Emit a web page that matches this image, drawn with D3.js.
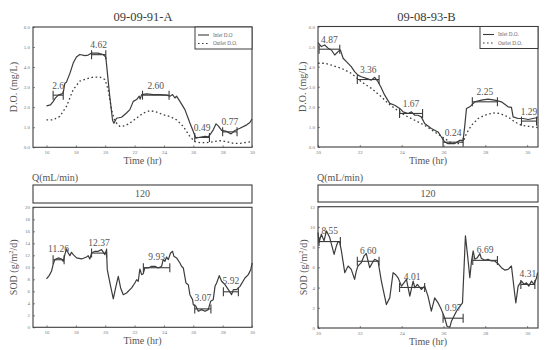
<!DOCTYPE html>
<html>
<head>
<meta charset="utf-8">
<script src="https://cdn.jsdelivr.net/npm/d3@7"></script>
<style>
  html, body { margin: 0; padding: 0; background: #fff; }
  svg { display: block; }
</style>
</head>
<body>
<svg id="chart" width="549" height="350"></svg>
<script>
// ---- Data: run 09-09-91-A (time in hr, D.O. in mg/L, SOD in g/m2/d) ----
const inletA = [[16.0,2.07],[16.27,2.12],[16.45,2.28],[16.6,2.45],[16.8,2.6],[17.0,2.65],[17.14,2.72],[17.25,3.2],[17.36,3.25],[17.6,3.7],[17.82,4.2],[18.04,4.5],[18.27,4.63],[18.61,4.57],[18.84,4.6],[19.07,4.7],[19.5,4.7],[19.86,4.63],[20.04,4.5],[20.3,2.6],[20.5,1.35],[20.59,1.2],[20.77,1.45],[21.11,1.5],[21.45,1.71],[21.68,1.88],[21.91,2.29],[22.14,2.38],[22.32,2.55],[22.38,2.4],[22.48,2.63],[22.82,2.66],[23.27,2.63],[23.73,2.63],[24.18,2.6],[24.41,2.55],[24.59,2.63],[24.75,2.46],[24.86,2.55],[25.09,2.29],[25.43,1.88],[25.77,1.21],[26.0,0.79],[26.18,0.45],[26.45,0.5],[26.8,0.55],[27.02,0.52],[27.18,0.67],[27.36,0.87],[27.55,1.17],[27.7,1.07],[27.93,0.84],[28.27,0.79],[28.57,0.67],[28.84,0.84],[29.18,0.95],[29.64,1.12],[29.86,1.24],[30.0,1.41]];
const outletA = [[16.0,1.37],[16.45,1.37],[16.91,1.54],[17.36,2.04],[17.82,2.88],[18.27,3.3],[18.73,3.42],[19.18,3.5],[19.64,3.5],[19.98,3.38],[20.2,2.88],[20.43,1.88],[20.66,1.29],[21.0,1.04],[21.34,1.07],[21.68,1.21],[22.14,1.46],[22.59,1.71],[23.05,1.83],[23.5,1.76],[23.95,1.62],[24.41,1.54],[24.86,1.37],[25.32,1.04],[25.77,0.54],[26.11,0.28],[26.45,0.23],[26.91,0.23],[27.36,0.28],[27.82,0.33],[28.27,0.28],[28.73,0.2],[29.18,0.2],[29.98,0.28]];
const doBarStartA = [16.45, 19.07, 22.54, 26.1, 28.0];
const doBarEndA   = [17.14, 20.04, 24.35, 27.1, 28.98];
const doBarValueA = [2.6, 4.62, 2.60, 0.49, 0.77];
const doBarTextA  = ["2.6", "4.62", "2.60", "0.49", "0.77"];

const sodA = [[16.0,8.06],[16.18,8.61],[16.34,9.33],[16.45,10.44],[16.57,11.28],[16.8,11.56],[17.02,11.39],[17.14,11.0],[17.25,12.11],[17.36,13.06],[17.48,12.39],[17.59,11.94],[17.7,12.5],[17.82,12.11],[18.05,11.56],[18.39,11.39],[18.73,11.72],[18.84,11.94],[18.95,11.39],[19.07,12.39],[19.3,12.67],[19.52,12.67],[19.75,12.94],[19.98,12.11],[20.09,12.94],[20.14,9.61],[20.32,7.39],[20.55,4.72],[20.73,6.83],[20.89,8.5],[21.05,6.56],[21.23,5.44],[21.45,5.72],[21.8,6.56],[22.02,7.39],[22.14,7.94],[22.25,7.67],[22.36,9.72],[22.48,8.78],[22.59,8.94],[22.7,9.89],[22.93,9.89],[23.16,10.17],[23.39,10.17],[23.61,9.89],[23.84,10.17],[23.95,11.28],[24.07,11.0],[24.18,11.72],[24.3,11.28],[24.45,12.39],[24.59,12.67],[24.68,11.83],[24.86,11.56],[25.09,10.72],[25.2,10.17],[25.32,9.89],[25.5,7.39],[25.66,7.11],[25.77,5.44],[25.95,4.61],[26.0,3.78],[26.18,3.5],[26.34,2.67],[26.57,2.94],[26.8,2.67],[27.02,2.94],[27.18,4.33],[27.36,4.61],[27.48,6.83],[27.59,7.39],[27.77,8.61],[27.93,7.67],[28.16,7.11],[28.39,6.28],[28.61,5.44],[28.73,6.28],[28.95,6.28],[29.18,6.83],[29.52,8.22],[29.75,8.78],[29.91,9.61],[30.02,10.72]];
const sodBarStartA = [16.45, 19.07, 22.6, 26.1, 28.05];
const sodBarEndA   = [17.2, 20.09, 24.4, 27.2, 29.07];
const sodBarValueA = [11.26, 12.37, 9.93, 3.07, 5.92];
const sodBarTextA  = ["11.26", "12.37", "9.93", "3.07", "5.92"];

// ---- Data: run 09-08-93-B ----
const inletB = [[20.0,5.2],[20.16,5.0],[20.32,5.08],[20.48,4.92],[20.64,4.83],[20.8,4.58],[20.96,4.75],[21.07,4.83],[21.2,4.42],[21.36,4.25],[21.59,4.0],[21.75,3.75],[21.91,3.58],[22.07,3.5],[22.31,3.42],[22.55,3.33],[22.71,3.47],[22.87,3.25],[23.0,3.0],[23.19,2.58],[23.43,2.17],[23.67,2.08],[23.91,1.92],[24.07,1.75],[24.31,1.67],[24.47,1.75],[24.63,1.58],[24.78,1.58],[24.94,1.5],[25.1,1.17],[25.42,0.92],[25.74,0.75],[25.9,0.5],[26.06,0.25],[26.22,0.17],[26.54,0.17],[26.78,0.33],[26.94,0.33],[27.02,1.08],[27.1,1.92],[27.26,2.0],[27.5,2.25],[27.81,2.33],[28.13,2.38],[28.45,2.33],[28.77,2.25],[29.09,2.0],[29.25,1.97],[29.33,1.5],[29.57,1.42],[29.81,1.42],[30.05,1.37],[30.5,1.47]];
const outletB = [[20.0,4.17],[20.32,4.17],[20.64,4.08],[21.12,3.92],[21.59,3.67],[22.07,3.25],[22.55,2.92],[23.03,2.5],[23.35,2.17],[23.67,1.92],[24.15,1.58],[24.63,1.33],[25.1,1.08],[25.58,0.75],[26.06,0.42],[26.38,0.2],[26.7,0.17],[26.94,0.25],[27.1,0.67],[27.34,1.08],[27.66,1.42],[27.97,1.58],[28.37,1.7],[28.69,1.67],[29.09,1.5],[29.41,1.25],[29.73,1.08],[30.05,1.03],[30.5,0.97]];
const doBarStartB = [20.05, 21.88, 23.9, 25.98, 27.38, 29.73];
const doBarEndB   = [21.04, 22.92, 25.0, 26.94, 28.58, 30.45];
const doBarValueB = [4.87, 3.36, 1.67, 0.24, 2.25, 1.29];
const doBarTextB  = ["4.87", "3.36", "1.67", "0.24", "2.25", "1.29"];

const sodB = [[20.0,9.45],[20.05,8.45],[20.16,9.28],[20.29,8.62],[20.4,9.61],[20.56,8.95],[20.77,7.29],[20.88,8.12],[20.96,8.55],[21.04,8.45],[21.12,7.62],[21.28,5.47],[21.44,6.13],[21.59,5.8],[21.75,4.81],[21.83,5.63],[21.91,6.13],[22.07,6.46],[22.2,7.13],[22.31,7.36],[22.47,5.97],[22.6,6.46],[22.71,6.8],[22.87,6.63],[23.03,4.64],[23.27,2.32],[23.43,2.98],[23.59,5.47],[23.7,5.3],[23.83,4.97],[23.99,4.14],[24.11,4.47],[24.23,4.81],[24.39,3.15],[24.55,4.64],[24.63,3.98],[24.75,4.31],[24.94,3.81],[25.1,4.14],[25.26,3.15],[25.42,1.66],[25.58,2.98],[25.74,2.49],[25.9,1.82],[26.06,0.99],[26.17,0.17],[26.3,0.07],[26.38,0.66],[26.62,1.66],[26.78,2.15],[26.91,2.49],[27.05,9.12],[27.18,6.63],[27.26,4.97],[27.34,6.63],[27.42,7.62],[27.5,6.8],[27.62,6.96],[27.74,7.36],[27.81,6.89],[27.97,6.7],[28.13,6.8],[28.29,6.63],[28.45,6.63],[28.61,6.36],[28.77,5.97],[28.93,5.73],[29.09,5.8],[29.25,6.13],[29.41,3.31],[29.46,2.49],[29.57,4.14],[29.73,4.64],[29.86,4.31],[29.97,4.47],[30.08,4.14],[30.21,4.64],[30.33,4.31],[30.45,4.97],[30.5,5.47]];
const sodBarStartB = [20.05, 21.88, 23.9, 25.98, 27.4, 29.7];
const sodBarEndB   = [21.07, 22.92, 25.1, 26.94, 28.58, 30.37];
const sodBarValueB = [8.55, 6.60, 4.01, 0.97, 6.69, 4.31];
const sodBarTextB  = ["8.55", "6.60", "4.01", "0.97", "6.69", "4.31"];

const titles = ["09-09-91-A", "09-08-93-B"];
const legendLabels = [["Inlet D.O", "Outlet D.O."], ["Inlet D.O.", "Outlet D.O."]];
const flowLabel = "Q(mL/min)";
const flowValue = "120";
const xTicksA = [16, 18, 20, 22, 24, 26, 28, 30];
const xTicksB = [20, 22, 24, 26, 28, 30];
const doTicks = [0, 1, 2, 3, 4, 5, 6];
const sodTicksA = [0, 2, 4, 6, 8, 10, 12, 14, 16, 18, 20];
const sodTicksB = [0, 2, 4, 6, 8, 10, 12];

// ---- Drawing ----
const serif = "'Liberation Serif', 'DejaVu Serif', serif";
const ink = "#3c3c3c";
const textInk = "#555";
const svg = d3.select("#chart");

function panel(opt) {
  const g = svg.append("g");
  const x = d3.scaleLinear().domain(opt.xDomain).range([opt.left, opt.right]);
  const y = d3.scaleLinear().domain(opt.yDomain).range([opt.bottom, opt.top]);

  // axes with small inward ticks
  const xAxis = d3.axisBottom(x).tickValues(opt.xTicks).tickSize(-2).tickPadding(3).tickSizeOuter(0);
  const yAxis = d3.axisLeft(y).tickValues(opt.yTicks).tickSize(-2).tickPadding(3).tickSizeOuter(0);
  const gx = g.append("g").attr("transform", `translate(0,${opt.bottom})`).call(xAxis);
  const gy = g.append("g").attr("transform", `translate(${opt.left},0)`).call(yAxis);
  [gx, gy].forEach(a => {
    a.select(".domain").remove();
    a.selectAll(".tick line").attr("stroke", ink).attr("stroke-width", 0.6);
    a.selectAll(".tick text").attr("font-family", serif).attr("font-size", 5).attr("fill", "#777");
  });

  // frame
  g.append("rect")
    .attr("x", opt.left).attr("y", opt.top)
    .attr("width", opt.right - opt.left).attr("height", opt.bottom - opt.top)
    .attr("fill", "none").attr("stroke", ink).attr("stroke-width", 1.1);

  const line = d3.line().x(d => x(d[0])).y(d => y(d[1]));
  opt.series.forEach(s => {
    g.append("path").datum(s.data)
      .attr("d", line)
      .attr("fill", "none")
      .attr("stroke", ink)
      .attr("stroke-width", s.dashed ? 1.3 : 1.2)
      .attr("stroke-dasharray", s.dashed ? "1.6,2.6" : null)
      .attr("stroke-linejoin", "round");
  });

  // averaged interval bars with end caps and value labels
  const bars = opt.barStart.map((s, i) => ({ s, e: opt.barEnd[i], v: opt.barValue[i], t: opt.barText[i] }));
  const bg = g.append("g").attr("stroke", ink).attr("stroke-width", 1.1);
  bars.forEach(b => {
    const yy = y(b.v);
    bg.append("line").attr("x1", x(b.s)).attr("x2", x(b.e)).attr("y1", yy).attr("y2", yy);
    bg.append("line").attr("x1", x(b.s)).attr("x2", x(b.s)).attr("y1", yy - 4.5).attr("y2", yy + 4.5);
    bg.append("line").attr("x1", x(b.e)).attr("x2", x(b.e)).attr("y1", yy - 4.5).attr("y2", yy + 4.5);
    g.append("text")
      .attr("x", (x(b.s) + x(b.e)) / 2)
      .attr("y", yy - opt.labelGap)
      .attr("text-anchor", "middle")
      .attr("font-family", serif).attr("font-size", 9.5)
      .attr("fill", textInk)
      .text(b.t);
  });

  // axis titles
  g.append("text")
    .attr("x", (opt.left + opt.right) / 2).attr("y", opt.bottom + 16.5)
    .attr("text-anchor", "middle")
    .attr("font-family", serif).attr("font-size", 10).attr("fill", textInk)
    .text("Time (hr)");

  const yl = g.append("text")
    .attr("transform", `translate(${opt.yLabelX},${(opt.top + opt.bottom) / 2}) rotate(-90)`)
    .attr("text-anchor", "middle")
    .attr("font-family", serif).attr("font-size", 10).attr("fill", textInk);
  if (opt.sod) {
    yl.append("tspan").text("SOD (g/m");
    yl.append("tspan").attr("font-size", 6.5).attr("dy", -4).text("2");
    yl.append("tspan").attr("dy", 4).text("/d)");
  } else {
    yl.text("D.O. (mg/L)");
  }
  return { x, y };
}

function legend(left, right, top, labels) {
  const g = svg.append("g");
  g.append("rect").attr("x", left).attr("y", top).attr("width", right - left).attr("height", 22)
    .attr("fill", "#fff").attr("stroke", ink).attr("stroke-width", 1);
  [0, 1].forEach(i => {
    const yy = top + 8 + i * 8.5;
    g.append("line").attr("x1", left + 3).attr("x2", left + 14).attr("y1", yy).attr("y2", yy)
      .attr("stroke", ink).attr("stroke-width", i ? 1.2 : 1.1)
      .attr("stroke-dasharray", i ? "1.6,2.4" : null);
    g.append("text").attr("x", left + 18).attr("y", yy + 1.8)
      .attr("font-family", serif).attr("font-size", 5.2).attr("fill", "#666")
      .text(labels[i]);
  });
}

function flowBox(left, right, top, bottom) {
  svg.append("text").attr("x", left - 1).attr("y", top - 4)
    .attr("font-family", serif).attr("font-size", 10).attr("fill", textInk).text(flowLabel);
  svg.append("rect").attr("x", left).attr("y", top).attr("width", right - left).attr("height", bottom - top)
    .attr("fill", "none").attr("stroke", ink).attr("stroke-width", 1.1);
  svg.append("text").attr("x", (left + right) / 2).attr("y", (top + bottom) / 2 + 3.3)
    .attr("text-anchor", "middle")
    .attr("font-family", serif).attr("font-size", 10).attr("fill", textInk).text(flowValue);
}

function title(cx, text) {
  svg.append("text").attr("x", cx).attr("y", 21).attr("text-anchor", "middle")
    .attr("font-family", serif).attr("font-size", 12.5).attr("fill", "#3a3a3a").text(text);
}

// Left column: 09-09-91-A
title(143, titles[0]);
panel({
  left: 33, right: 252, top: 27, bottom: 147.3,
  xDomain: [15.08, 30], yDomain: [0, 6], xTicks: xTicksA, yTicks: doTicks,
  series: [{ data: inletA }, { data: outletA, dashed: true }],
  barStart: doBarStartA, barEnd: doBarEndA, barValue: doBarValueA, barText: doBarTextA,
  labelGap: 6.5, yLabelX: 17
});
legend(195, 252, 27, legendLabels[0]);
flowBox(33, 252, 185, 203);
panel({
  left: 33, right: 252, top: 207.3, bottom: 327.3,
  xDomain: [15.08, 30], yDomain: [0, 20], xTicks: xTicksA, yTicks: sodTicksA,
  series: [{ data: sodA }],
  barStart: sodBarStartA, barEnd: sodBarEndA, barValue: sodBarValueA, barText: sodBarTextA,
  labelGap: 7.5, yLabelX: 17, sod: true
});

// Right column: 09-08-93-B
title(426.5, titles[1]);
panel({
  left: 318, right: 538, top: 26.5, bottom: 147,
  xDomain: [20, 30.52], yDomain: [0, 6], xTicks: xTicksB, yTicks: doTicks,
  series: [{ data: inletB }, { data: outletB, dashed: true }],
  barStart: doBarStartB, barEnd: doBarEndB, barValue: doBarValueB, barText: doBarTextB,
  labelGap: 6.5, yLabelX: 305.5
});
legend(480, 538, 26.5, legendLabels[1]);
flowBox(318, 538, 185, 202);
panel({
  left: 318, right: 538, top: 206.7, bottom: 328,
  xDomain: [20, 30.52], yDomain: [0, 12], xTicks: xTicksB, yTicks: sodTicksB,
  series: [{ data: sodB }],
  barStart: sodBarStartB, barEnd: sodBarEndB, barValue: sodBarValueB, barText: sodBarTextB,
  labelGap: 7.5, yLabelX: 307, sod: true
});
</script>
</body>
</html>
